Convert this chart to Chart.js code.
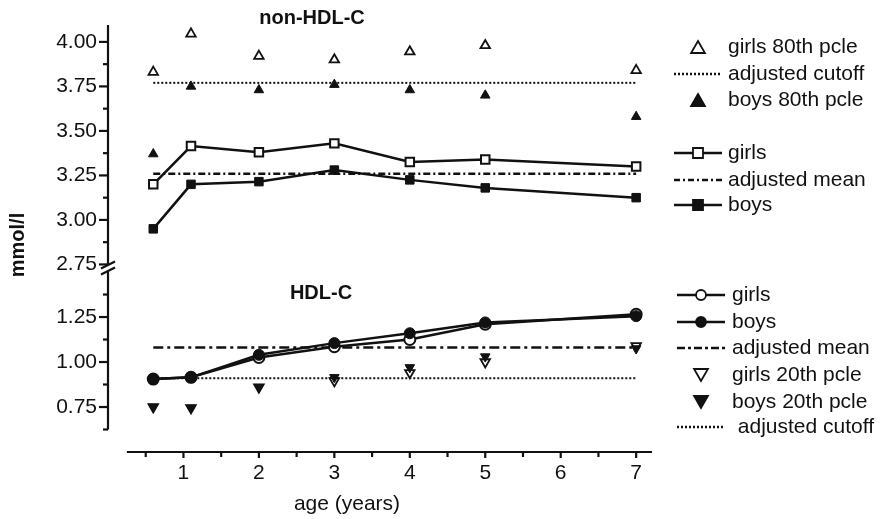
<!DOCTYPE html>
<html>
<head>
<meta charset="utf-8">
<title>non-HDL-C and HDL-C by age</title>
<script src="https://cdn.jsdelivr.net/npm/chart.js@4.4.1/dist/chart.umd.min.js"></script>
<style>
  html, body { margin: 0; padding: 0; background: #fff; }
</style>
</head>
<body>
<canvas id="lipidChart" width="880" height="519"></canvas>
<script>
// ages of the measurement points (years)
const ages = [0.6, 1.1, 2, 3, 4, 5, 7];

// non-HDL-C (mmol/l)
const girls80 = [3.83, 4.045, 3.92, 3.90, 3.945, 3.98, 3.84];
const boys80 = [3.37, 3.75, 3.73, 3.76, 3.73, 3.70, 3.58];
const girlsNonHdl = [3.20, 3.415, 3.38, 3.43, 3.325, 3.34, 3.30];
const boysNonHdl = [2.95, 3.20, 3.215, 3.28, 3.225, 3.18, 3.125];
const nonHdlCutoff = 3.77;
const nonHdlMean = 3.26;

// HDL-C (mmol/l)
const girlsHdl = [0.905, 0.915, 1.025, 1.085, 1.125, 1.21, 1.265];
const boysHdl = [0.905, 0.915, 1.04, 1.105, 1.16, 1.22, 1.255];
const girls20 = [0.75, 0.745, 0.86, 0.895, 0.94, 1.00, 1.09];
const boys20 = [0.75, 0.745, 0.86, 0.915, 0.97, 1.03, 1.075];
const hdlMean = 1.08;
const hdlCutoff = 0.91;

const xTickLabels = ['1', '2', '3', '4', '5', '6', '7'];

const ink = '#111';
const font = "'Liberation Sans', Arial, sans-serif";

function pts(arr) {
    return ages.map((a, i) => ({ x: a, y: arr[i] }));
}
function flat(v) {
    return [{ x: ages[0], y: v }, { x: ages[ages.length - 1], y: v }];
}
function isQuarter(v) {
    return Math.abs(v * 4 - Math.round(v * 4)) < 1e-6;
}

const datasets = [
    // top panel
    { label: 'boys', data: pts(boysNonHdl), yAxisID: 'yTop', showLine: true, order: 1,
      borderColor: ink, borderWidth: 2.5, pointStyle: 'rect', pointRadius: 6,
      pointBackgroundColor: ink, pointBorderColor: ink, pointBorderWidth: 1 },
    { label: 'girls', data: pts(girlsNonHdl), yAxisID: 'yTop', showLine: true, order: 2,
      borderColor: ink, borderWidth: 2.5, pointStyle: 'rect', pointRadius: 6,
      pointBackgroundColor: '#fff', pointBorderColor: ink, pointBorderWidth: 2 },
    { label: 'adjusted mean', data: flat(nonHdlMean), yAxisID: 'yTop', showLine: true, order: 5,
      borderColor: ink, borderWidth: 2.5, borderDash: [7, 3, 2, 3], pointRadius: 0 },
    { label: 'adjusted cutoff', data: flat(nonHdlCutoff), yAxisID: 'yTop', showLine: true, order: 5,
      borderColor: ink, borderWidth: 2, borderDash: [2, 2], pointRadius: 0 },
    { label: 'girls 80th pcle', data: pts(girls80), yAxisID: 'yTop', showLine: false, order: 3,
      pointStyle: 'triangle', pointRadius: 5.5, pointBackgroundColor: '#fff',
      pointBorderColor: ink, pointBorderWidth: 1.8 },
    { label: 'boys 80th pcle', data: pts(boys80), yAxisID: 'yTop', showLine: false, order: 3,
      pointStyle: 'triangle', pointRadius: 5.5, pointBackgroundColor: ink,
      pointBorderColor: ink, pointBorderWidth: 1 },

    // bottom panel
    { label: 'boys', data: pts(boysHdl), yAxisID: 'yBot', showLine: true, order: 1,
      borderColor: ink, borderWidth: 2.5, pointStyle: 'circle', pointRadius: 5.5,
      pointBackgroundColor: ink, pointBorderColor: ink, pointBorderWidth: 1 },
    { label: 'girls', data: pts(girlsHdl), yAxisID: 'yBot', showLine: true, order: 2,
      borderColor: ink, borderWidth: 2.5, pointStyle: 'circle', pointRadius: 5.5,
      pointBackgroundColor: '#fff', pointBorderColor: ink, pointBorderWidth: 2 },
    { label: 'adjusted mean', data: flat(hdlMean), yAxisID: 'yBot', showLine: true, order: 6,
      borderColor: ink, borderWidth: 2.5, borderDash: [10, 4, 3, 4], pointRadius: 0 },
    { label: 'adjusted cutoff', data: flat(hdlCutoff), yAxisID: 'yBot', showLine: true, order: 6,
      borderColor: ink, borderWidth: 2, borderDash: [2, 2], pointRadius: 0 },
    { label: 'boys 20th pcle', data: pts(boys20), yAxisID: 'yBot', showLine: false, order: 3,
      pointStyle: 'triangle', pointRotation: 180, pointRadius: 5.5, pointBackgroundColor: ink,
      pointBorderColor: ink, pointBorderWidth: 1 },
    { label: 'girls 20th pcle', data: pts(girls20), yAxisID: 'yBot', showLine: false, order: 4,
      pointStyle: 'triangle', pointRotation: 180, pointRadius: 5.5, pointBackgroundColor: '#fff',
      pointBorderColor: ink, pointBorderWidth: 1.8 }
];

// legend marks, same shapes as chart.js point styles
function mark(ctx, kind, x, y, r, filled) {
    ctx.beginPath();
    if (kind === 'tri' || kind === 'triDown') {
        let rad = kind === 'tri' ? 0 : Math.PI;
        for (let k = 0; k < 3; k++) {
            const px = x + Math.sin(rad) * r, py = y - Math.cos(rad) * r;
            if (k === 0) ctx.moveTo(px, py); else ctx.lineTo(px, py);
            rad += 2 * Math.PI / 3;
        }
        ctx.closePath();
    } else if (kind === 'rect') {
        ctx.rect(x - r, y - r, 2 * r, 2 * r);
    } else {
        ctx.arc(x, y, r, 0, Math.PI * 2);
    }
    ctx.fillStyle = filled ? ink : '#fff';
    ctx.fill();
    ctx.lineWidth = 1.8;
    ctx.stroke();
}
function seg(ctx, x1, y1, x2, y2, dash) {
    ctx.save();
    ctx.setLineDash(dash || []);
    ctx.beginPath();
    ctx.moveTo(x1, y1);
    ctx.lineTo(x2, y2);
    ctx.stroke();
    ctx.restore();
}

const legendTop = [
    { y: 47, text: 'girls 80th pcle', m: 'tri', filled: false },
    { y: 74, text: 'adjusted cutoff', dash: [2, 2] },
    { y: 100, text: 'boys 80th pcle', m: 'tri', filled: true },
    { y: 153, text: 'girls', line: true, m: 'rect', filled: false },
    { y: 180, text: 'adjusted mean', dash: [6, 3, 2, 3] },
    { y: 205, text: 'boys', line: true, m: 'rect', filled: true }
];
const legendBot = [
    { y: 295, text: 'girls', line: true, m: 'circle', filled: false },
    { y: 322, text: 'boys', line: true, m: 'circle', filled: true },
    { y: 348, text: 'adjusted mean', dash: [8, 3, 3, 3] },
    { y: 375, text: 'girls 20th pcle', m: 'triDown', filled: false },
    { y: 402, text: 'boys 20th pcle', m: 'triDown', filled: true },
    { y: 427, text: ' adjusted cutoff', dash: [2, 2] }
];

function drawLegend(ctx, items, x0, x1, tx) {
    const cx = (x0 + x1) / 2;
    items.forEach(it => {
        ctx.strokeStyle = ink;
        ctx.lineWidth = 2.5;
        if (it.dash) seg(ctx, x0, it.y, x1, it.y, it.dash);
        if (it.line) seg(ctx, x0, it.y, x1, it.y);
        if (it.m === 'tri') mark(ctx, 'tri', cx, it.y + 2, 8, it.filled);
        if (it.m === 'triDown') mark(ctx, 'triDown', cx, it.y - 2, 8, it.filled);
        if (it.m === 'rect') mark(ctx, 'rect', cx, it.y, 5, it.filled);
        if (it.m === 'circle') mark(ctx, 'circle', cx, it.y, 5, it.filled);
        ctx.fillStyle = ink;
        ctx.font = '21px ' + font;
        ctx.textAlign = 'left';
        ctx.textBaseline = 'middle';
        ctx.fillText(it.text, tx, it.y);
    });
}

const decor = {
    id: 'decor',
    afterDraw(chart) {
        const ctx = chart.ctx;
        const xs = chart.scales.x, yT = chart.scales.yTop, yB = chart.scales.yBot;
        ctx.save();
        ctx.strokeStyle = ink;
        ctx.fillStyle = ink;
        ctx.lineWidth = 2.2;

        // broken y axis
        const ax = yT.right;
        const cut = yT.getPixelForValue(2.75);
        seg(ctx, ax, yT.top, ax, cut);
        seg(ctx, ax, cut + 6, ax, yB.getPixelForValue(0.625));
        seg(ctx, ax - 7, cut + 4, ax + 7, cut - 3);
        seg(ctx, ax - 7, cut + 10, ax + 7, cut + 3);

        // y ticks
        [yT, yB].forEach(s => {
            s.ticks.forEach(t => {
                if (t.value < 0.6) return;
                const py = s.getPixelForValue(t.value);
                const len = isQuarter(t.value) ? 9 : 5;
                seg(ctx, ax - len, py, ax, py);
            });
        });

        // x axis, offset from the y axis
        const base = xs.top;
        seg(ctx, xs.getPixelForValue(0.25), base, xs.right, base);
        xs.ticks.forEach(t => {
            if (t.value <= 0) return;
            const px = xs.getPixelForValue(t.value);
            seg(ctx, px, base, px, base + (Number.isInteger(t.value) ? 6 : 5));
        });

        // titles
        ctx.textAlign = 'center';
        ctx.textBaseline = 'middle';
        ctx.font = 'bold 20px ' + font;
        ctx.fillText('non-HDL-C', 312, 18);
        ctx.fillText('HDL-C', 321, 293);
        ctx.font = '21px ' + font;
        ctx.fillText('age (years)', 347, 504);
        ctx.save();
        ctx.translate(18, 245);
        ctx.rotate(-Math.PI / 2);
        ctx.font = 'bold 20px ' + font;
        ctx.fillText('mmol/l', 0, 0);
        ctx.restore();

        drawLegend(ctx, legendTop, 674, 722, 728);
        drawLegend(ctx, legendBot, 677, 725, 732);
        ctx.restore();
    }
};

const yTickFont = { family: font, size: 21 };

const lipidChart = new Chart(document.getElementById('lipidChart'), {
    type: 'scatter',
    data: { datasets: datasets },
    options: {
        responsive: false,
        animation: false,
        layout: { padding: { top: 25, right: 228, left: 0, bottom: 0 } },
        plugins: { legend: { display: false }, tooltip: { enabled: false } },
        scales: {
            x: {
                type: 'linear', min: 0, max: 7.21,
                border: { display: false },
                grid: { drawOnChartArea: false, tickColor: 'transparent', tickLength: 6 },
                ticks: {
                    stepSize: 0.5, includeBounds: false, padding: 3, color: ink,
                    font: yTickFont, maxRotation: 0, autoSkip: false,
                    callback: v => (Number.isInteger(v) && v > 0 ? xTickLabels[v - 1] : '')
                },
                afterFit: s => { s.height = 67; }
            },
            yBot: {
                type: 'linear', position: 'left', stack: 'panels', stackWeight: 176,
                min: 0.5, max: 1.478,
                border: { display: false },
                grid: { drawOnChartArea: false, tickColor: 'transparent', tickLength: 9 },
                ticks: {
                    stepSize: 0.125, includeBounds: false, padding: 2, color: ink, font: yTickFont,
                    autoSkip: false,
                    callback: v => (isQuarter(v) && v > 0.6 ? v.toFixed(2) : '')
                },
                afterFit: s => { s.width = 108; }
            },
            yTop: {
                type: 'linear', position: 'left', stack: 'panels', stackWeight: 251,
                min: 2.685, max: 4.095,
                border: { display: false },
                grid: { drawOnChartArea: false, tickColor: 'transparent', tickLength: 9 },
                ticks: {
                    stepSize: 0.125, includeBounds: false, padding: 2, color: ink, font: yTickFont,
                    autoSkip: false,
                    callback: v => (isQuarter(v) ? v.toFixed(2) : '')
                },
                afterFit: s => { s.width = 108; }
            }
        }
    },
    plugins: [decor]
});
</script>
</body>
</html>
